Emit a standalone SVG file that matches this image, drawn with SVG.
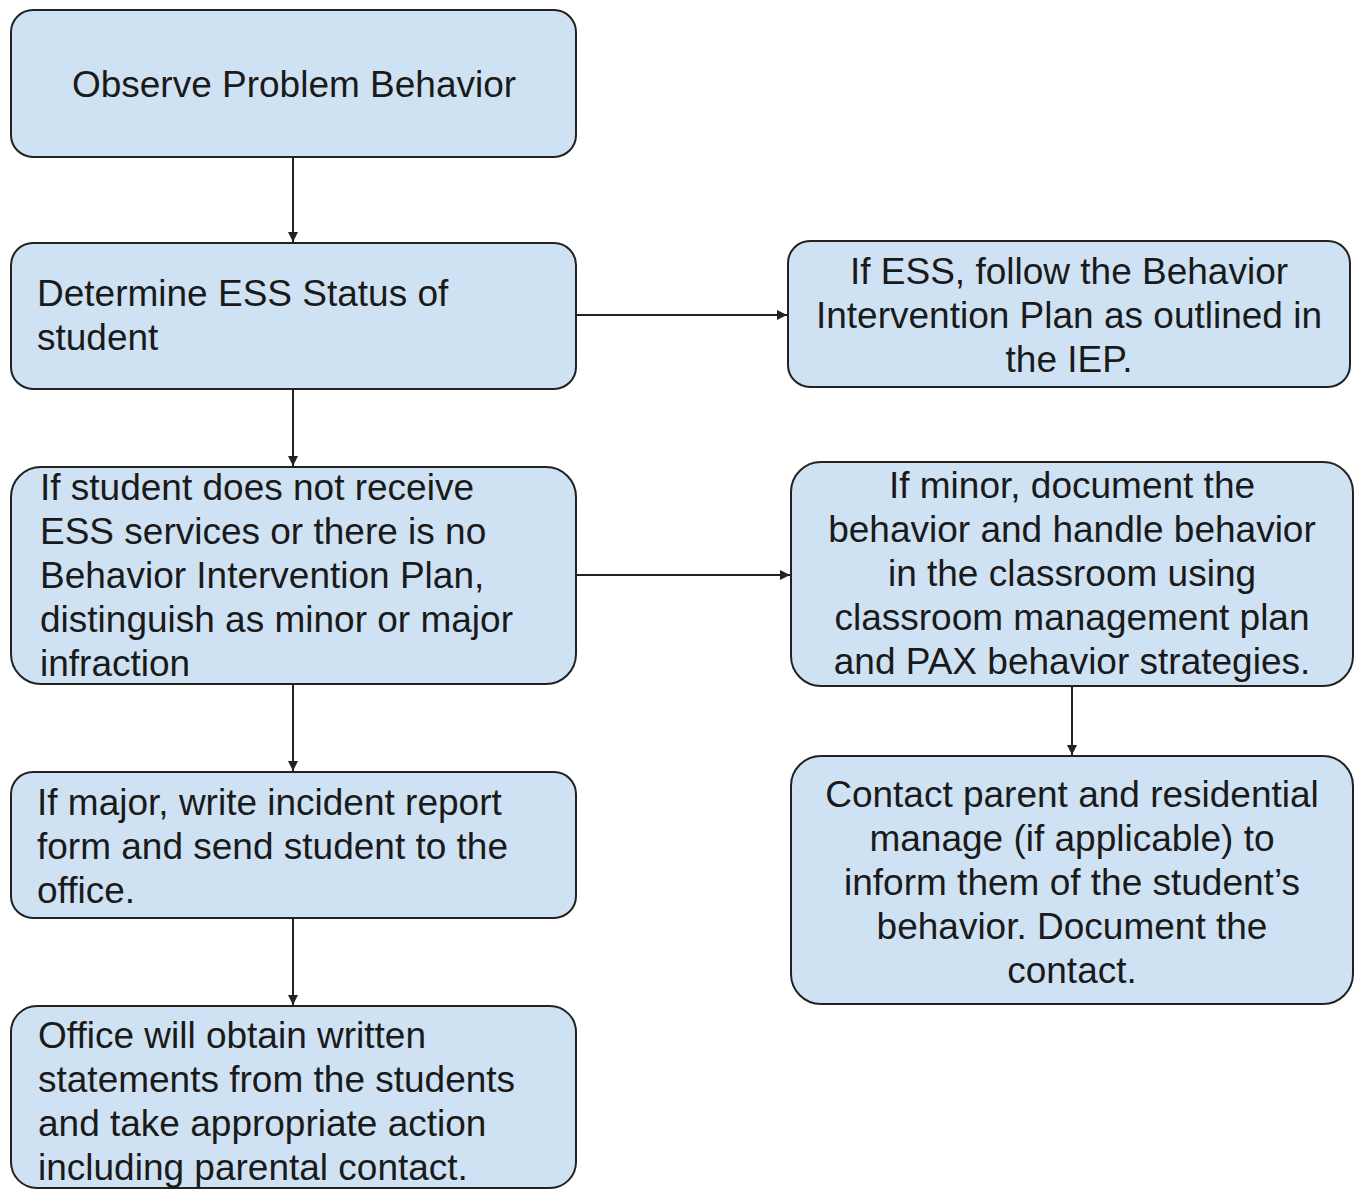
<svg xmlns="http://www.w3.org/2000/svg" width="1358" height="1190" viewBox="0 0 1358 1190">
<style>
.box{fill:#cfe2f3;stroke:#222;stroke-width:2}
.t{font-family:"Liberation Sans",Arial,sans-serif;font-size:37px;fill:#1a1a1a}
.c{text-anchor:middle}
.edge{stroke:#222;stroke-width:2;fill:none;marker-end:url(#ah)}
</style>
<defs>
<marker id="ah" viewBox="0 0 10 10" refX="10" refY="5" markerWidth="5" markerHeight="5" markerUnits="strokeWidth" orient="auto">
<path d="M0,0 L10,5 L0,10 z" fill="#222"/>
</marker>
</defs>
<rect width="1358" height="1190" fill="#fff"/>
<g id="connectors">
<line class="edge" x1="293" y1="157" x2="293" y2="242"/>
<line class="edge" x1="293" y1="389" x2="293" y2="466"/>
<line class="edge" x1="293" y1="684" x2="293" y2="771"/>
<line class="edge" x1="293" y1="918" x2="293" y2="1005"/>
<line class="edge" x1="576" y1="315" x2="787" y2="315"/>
<line class="edge" x1="576" y1="575" x2="790" y2="575"/>
<line class="edge" x1="1072" y1="686" x2="1072" y2="755"/>
</g>
<g id="n1">
<rect class="box" x="11" y="10" width="565" height="147" rx="22"/>
<text class="t c" x="294" y="97">Observe Problem Behavior</text>
</g>
<g id="n2">
<rect class="box" x="11" y="243" width="565" height="146" rx="22"/>
<text class="t" x="37" y="306">Determine ESS Status of</text>
<text class="t" x="37" y="350">student</text>
</g>
<g id="n3">
<rect class="box" x="11" y="467" width="565" height="217" rx="30"/>
<text class="t" x="40" y="500">If student does not receive</text>
<text class="t" x="40" y="544">ESS services or there is no</text>
<text class="t" x="40" y="588">Behavior Intervention Plan,</text>
<text class="t" x="40" y="632">distinguish as minor or major</text>
<text class="t" x="40" y="676">infraction</text>
</g>
<g id="n4">
<rect class="box" x="11" y="772" width="565" height="146" rx="22"/>
<text class="t" x="37" y="815">If major, write incident report</text>
<text class="t" x="37" y="859">form and send student to the</text>
<text class="t" x="37" y="903">office.</text>
</g>
<g id="n5">
<rect class="box" x="11" y="1006" width="565" height="182" rx="26"/>
<text class="t" x="38" y="1048">Office will obtain written</text>
<text class="t" x="38" y="1092">statements from the students</text>
<text class="t" x="38" y="1136">and take appropriate action</text>
<text class="t" x="38" y="1180">including parental contact.</text>
</g>
<g id="n6">
<rect class="box" x="788" y="241" width="562" height="146" rx="22"/>
<text class="t c" x="1069" y="284">If ESS, follow the Behavior</text>
<text class="t c" x="1069" y="328">Intervention Plan as outlined in</text>
<text class="t c" x="1069" y="372">the IEP.</text>
</g>
<g id="n7">
<rect class="box" x="791" y="462" width="562" height="224" rx="30"/>
<text class="t c" x="1072" y="498">If minor, document the</text>
<text class="t c" x="1072" y="542">behavior and handle behavior</text>
<text class="t c" x="1072" y="586">in the classroom using</text>
<text class="t c" x="1072" y="630">classroom management plan</text>
<text class="t c" x="1072" y="674">and PAX behavior strategies.</text>
</g>
<g id="n8">
<rect class="box" x="791" y="756" width="562" height="248" rx="30"/>
<text class="t c" x="1072" y="807">Contact parent and residential</text>
<text class="t c" x="1072" y="851">manage (if applicable) to</text>
<text class="t c" x="1072" y="895">inform them of the student’s</text>
<text class="t c" x="1072" y="939">behavior. Document the</text>
<text class="t c" x="1072" y="983">contact.</text>
</g>
</svg>
